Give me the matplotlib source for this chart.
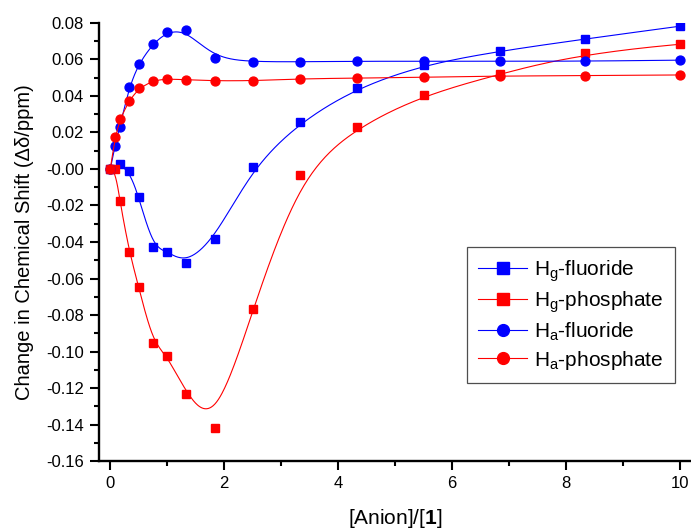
import numpy as np
import matplotlib
matplotlib.use('Agg')
from matplotlib import pyplot as plt

plt.rcParams['font.family'] = ['Liberation Sans', 'DejaVu Sans']
plt.rcParams['mathtext.fontset'] = 'custom'
plt.rcParams['mathtext.rm'] = 'Liberation Sans'
plt.rcParams['mathtext.it'] = 'Liberation Sans:italic'
plt.rcParams['mathtext.bf'] = 'Liberation Sans:bold'

# data
x_full = [0, 0.083, 0.167, 0.333, 0.5, 0.75, 1.0, 1.333, 1.833, 2.5, 3.333, 4.333, 5.5, 6.833, 8.333, 10]
x_hg_f = [0, 0.167, 0.333, 0.5, 0.75, 1.0, 1.333, 1.833, 2.5, 3.333, 4.333, 5.5, 6.833, 8.333, 10]

hg_fluoride = [0, 0.0028, -0.0011, -0.0154, -0.0428, -0.0453, -0.0517, -0.0382, 0.0008,
               0.0257, 0.0444, 0.0569, 0.0646, 0.0711, 0.0781]
hg_phosphate = [0, 0, -0.0176, -0.0453, -0.0649, -0.0952, -0.1022, -0.1230, -0.1416, -0.0769,
                -0.0032, 0.0230, 0.0403, 0.0520, 0.0636, 0.0682]
ha_fluoride = [0, 0.0128, 0.0230, 0.0448, 0.0576, 0.0685, 0.0750, 0.0758, 0.0605, 0.0586,
               0.0586, 0.0589, 0.0589, 0.0589, 0.0589, 0.0595]
ha_phosphate = [0, 0.0174, 0.0272, 0.0374, 0.0440, 0.0483, 0.0493, 0.0487, 0.0482, 0.0482,
                0.0493, 0.0497, 0.0501, 0.0509, 0.0510, 0.0514]


def bspline(xs, ys, n=500, k=3):
    # clamped cubic B-spline, data points used as control points
    P = np.column_stack([xs, ys])
    m = len(P)
    t = np.concatenate([np.zeros(k), np.linspace(0, 1, m - k + 1), np.ones(k)])
    u = np.linspace(0, 1, n)
    u[-1] -= 1e-9

    def N(i, p):
        if p == 0:
            return ((t[i] <= u) & (u < t[i + 1])).astype(float)
        a = 0.0
        b = 0.0
        if t[i + p] != t[i]:
            a = (u - t[i]) / (t[i + p] - t[i]) * N(i, p - 1)
        if t[i + p + 1] != t[i + 1]:
            b = (t[i + p + 1] - u) / (t[i + p + 1] - t[i + 1]) * N(i + 1, p - 1)
        return a + b

    B = np.array([N(i, k) for i in range(m)])
    C = B.T @ P
    return C[:, 0], C[:, 1]


fig = plt.figure(figsize=(6.91, 5.29), dpi=100)
ax = fig.add_axes([0.1433, 0.128, 0.8567, 0.8291])

series = [
    (x_hg_f, hg_fluoride, 'blue', 's', 5.3, 'H$_\\mathrm{g}$-fluoride'),
    (x_full, hg_phosphate, 'red', 's', 5.3, 'H$_\\mathrm{g}$-phosphate'),
    (x_full, ha_fluoride, 'blue', 'o', 6.4, 'H$_\\mathrm{a}$-fluoride'),
    (x_full, ha_phosphate, 'red', 'o', 6.4, 'H$_\\mathrm{a}$-phosphate'),
]
for xs, ys, c, m, ms, lab in series:
    cx, cy = bspline(xs, ys)
    ax.plot(cx, cy, color=c, lw=0.8)
    ax.plot(xs, ys, ls='none', marker=m, ms=ms, color=c, mec=c)
    ax.plot([], [], color=c, lw=0.8, marker=m, ms=8.5, label=lab)

ax.set_xlim(-0.198, 10.19)
ax.set_ylim(-0.16, 0.08)
ax.set_xticks(np.arange(0, 11, 2))
ax.set_xticks(np.arange(0, 11, 1), minor=True)
ax.set_yticks(np.arange(-0.16, 0.081, 0.02))
ax.set_yticks(np.arange(-0.16, 0.081, 0.01), minor=True)
ax.set_yticklabels(['%.2f' % v for v in np.arange(-0.16, 0.081, 0.02)])

for s in ['top', 'right']:
    ax.spines[s].set_visible(False)
for s in ['left', 'bottom']:
    ax.spines[s].set_linewidth(1.7)
ax.tick_params(which='major', direction='out', length=6.8, width=1.5, labelsize=12, pad=4)
ax.tick_params(which='minor', direction='out', length=3.4, width=1.5)

ax.set_xlabel('[Anion]/[$\\mathbf{1}$]', fontsize=15, labelpad=11)
ax.set_ylabel('Change in Chemical Shift (\u0394\u03b4/ppm)', fontsize=14.5, labelpad=9)

leg = ax.legend(loc='upper left', bbox_to_anchor=(0.6216, 0.4886), borderaxespad=0,
                fontsize=15, frameon=True, fancybox=False, edgecolor='#222222',
                handlelength=2.35, handletextpad=0.3, labelspacing=0.27,
                borderpad=0.55)
leg.get_frame().set_linewidth(0.9)

plt.savefig('out.png', dpi=100)
